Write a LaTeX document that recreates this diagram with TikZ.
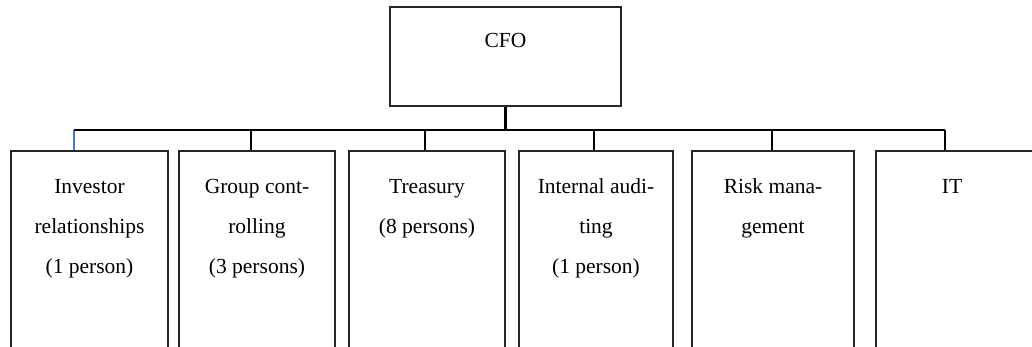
\documentclass[tikz,border=0pt]{standalone}
\usepackage{fontspec}
\setmainfont{Liberation Serif}
\definecolor{droplink}{RGB}{74,124,192}
\begin{document}
\begin{tikzpicture}[x=1pt,y=-1pt,
  unitbox/.style={draw=black!85,line width=1.8pt,rectangle,inner sep=0pt,
    minimum width=#1,minimum height=230pt,anchor=north},
  label text/.style={font=\fontsize{21.5}{40}\selectfont,align=center,
    anchor=north,inner sep=0pt},
  link/.style={draw=black,line width=2.3pt},
  firstlink/.style={draw=droplink,line width=2.3pt}]
\useasboundingbox (0,0) rectangle (1032,346);
\clip (0,0) rectangle (1032,346);

% head of the chart
\node[draw=black!85,line width=1.8pt,minimum width=231pt,minimum height=99pt,
  inner sep=0pt] (cfo) at (505.5,56.5) {};
\node[font=\fontsize{21.5}{40}\selectfont,anchor=base,inner sep=0pt] (cfotext)
  at (505.5,47) {CFO};

% department boxes (run off the lower edge)
\node[unitbox=157pt] (b1) at (89.5,150) {};
\node[unitbox=156pt] (b2) at (257,150) {};
\node[unitbox=156pt] (b3) at (427,150) {};
\node[unitbox=154pt] (b4) at (596,150) {};
\node[unitbox=162pt] (b5) at (773,150) {};
\node[unitbox=157pt] (b6) at (954.5,150) {};

\node[label text] (t1) at (89.5,165) {\strut Investor\\relationships\\(1 person)};
\node[label text] (t2) at (257,165) {\strut Group cont-\\rolling\\(3 persons)};
\node[label text] (t3) at (427,165) {\strut Treasury\\(8 persons)};
\node[label text] (t4) at (596,165) {\strut Internal audi-\\ting\\(1 person)};
\node[label text] (t5) at (773,165) {\strut Risk mana-\\gement};
\node[label text] (t6) at (952,165) {\strut IT};

% branch points on the bus line
\coordinate (d1) at (74,130);
\coordinate (d2) at (251,130);
\coordinate (d3) at (425,130);
\coordinate (d4) at (594,130);
\coordinate (d5) at (772,130);
\coordinate (d6) at (945,130);

\draw[link] (cfo.south) -- (cfo.south |- d1);
\draw[firstlink] (d1) -- (d1 |- b1.north);
\draw[link] (d1) -- (d6);
\draw[link] (d2) -- (d2 |- b2.north);
\draw[link] (d3) -- (d3 |- b3.north);
\draw[link] (d4) -- (d4 |- b4.north);
\draw[link] (d5) -- (d5 |- b5.north);
\draw[link] (d6) -- (d6 |- b6.north);
\end{tikzpicture}
\end{document}
